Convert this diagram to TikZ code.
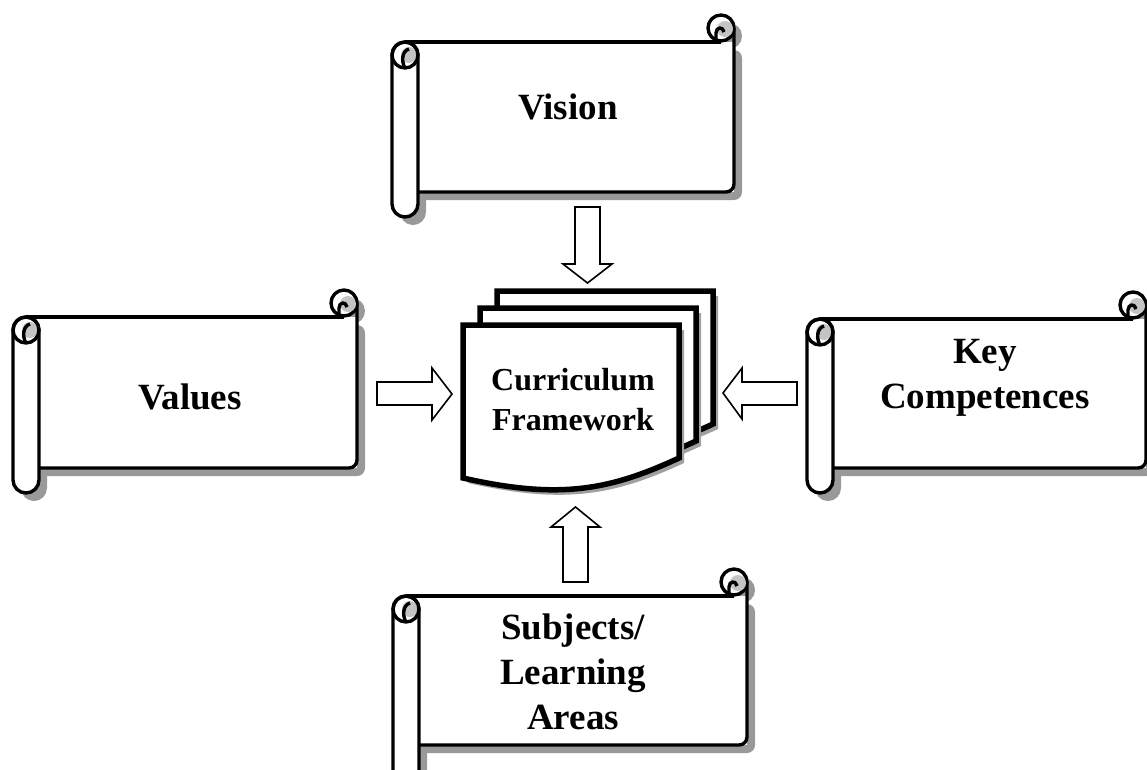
\documentclass[tikz,border=0pt]{standalone}
\usepackage{fontspec}
\setmainfont{Liberation Serif}
\definecolor{shadowgray}{HTML}{999999}
\definecolor{curlgray}{HTML}{C4C4C4}
\definecolor{docshadow}{HTML}{A0A0A0}
\tikzset{
  scrollline/.style={draw=black,line width=3.4pt,line join=round},
  docsheet/.style={draw=black,fill=white,line width=5.5pt,line join=miter},
  blockarrow/.style={draw=black,fill=white,line width=1.6pt,line join=miter},
  bigtext/.style={font=\fontsize{37}{45}\selectfont\bfseries,align=center,inner sep=0pt},
  doctext/.style={font=\fontsize{32}{40}\selectfont\bfseries,align=center,inner sep=0pt}
}
% L T R B Bb
\newcommand\scrollshape[5]{%
  \begin{scope}[shift={(8,8)}]
    \fill[shadowgray,rounded corners=8pt] ({#1+13},#2) rectangle (#3,#4);
    \fill[shadowgray,rounded corners=13pt] (#1,#2) rectangle ({#1+26},#5);
    \fill[shadowgray] ({#3-13},{#2-14}) circle (13);
  \end{scope}
  \fill[white] ({#1+13},#2) rectangle (#3,#4);
  \draw[scrollline,rounded corners=8pt] ({#1+20},#4) -- (#3,#4) -- (#3,{#2-14});
  \draw[scrollline] ({#1+13},#2) -- ({#3-13},#2);
  \filldraw[scrollline,fill=white] ({#3-13},{#2-14}) circle (13);
  \fill[curlgray] ({#3-9},{#2-13}) circle (8);
  \draw[scrollline] ({#3-18},{#2-1}) -- ({#3-18},{#2-9}) .. controls ({#3-18},{#2-15}) and ({#3-11},{#2-16}) .. ({#3-10},{#2-10});
  \filldraw[scrollline,fill=white,rounded corners=13pt] (#1,#2) rectangle ({#1+26},#5);
  \fill[curlgray] ({#1+17},{#2+13}) circle (8);
  \draw[scrollline] ({#1+13},{#2+13}) circle (13);
  \draw[scrollline] ({#1+13},{#2+26}) .. controls ({#1+9},{#2+19}) and ({#1+10},{#2+9}) .. ({#1+17},{#2+7});
}
\newcommand\docpath{(463,325) -- (679,325) -- (679,458) .. controls (610,490) and (560,500) .. (463,478) -- cycle}
\begin{document}
\begin{tikzpicture}[x=1pt,y=-1pt]
\useasboundingbox (0,0) rectangle (1147,769);
% scrolls
\scrollshape{392}{42}{734}{192}{217}
\scrollshape{13}{317}{357}{468}{493}
\scrollshape{807}{319}{1146}{468}{493}
\scrollshape{393}{596}{747}{745}{785}
\node[bigtext] (vision) at (568,107) {Vision};
\node[bigtext] (values) at (190,397) {Values};
\node[bigtext] (key) at (985,378) {Key\\Competences};
\node[bigtext] (subjects) at (573,672) {Subjects/\\Learning\\Areas};
% document stack
\foreach \s in {34,17,0}{
  \begin{scope}[shift={(\s,-\s)}]
    \fill[docshadow,shift={(5,5)}] \docpath;
    \path[docsheet] \docpath;
  \end{scope}
}
\node[doctext] (cf) at (573,400) {Curriculum\\Framework};
% block arrows
\draw[blockarrow] (575,207) -- (600,207) -- (600,264) -- (612,264) -- (587.5,283) -- (563,264) -- (575,264) -- cycle;
\draw[blockarrow] (563,582) -- (588,582) -- (588,527) -- (600,527) -- (575.5,507) -- (551,527) -- (563,527) -- cycle;
\draw[blockarrow] (377,382) -- (432,382) -- (432,368) -- (452,394) -- (432,420) -- (432,405) -- (377,405) -- cycle;
\draw[blockarrow] (797,382) -- (742,382) -- (742,368) -- (723,393) -- (742,419) -- (742,405) -- (797,405) -- cycle;
\end{tikzpicture}
\end{document}
